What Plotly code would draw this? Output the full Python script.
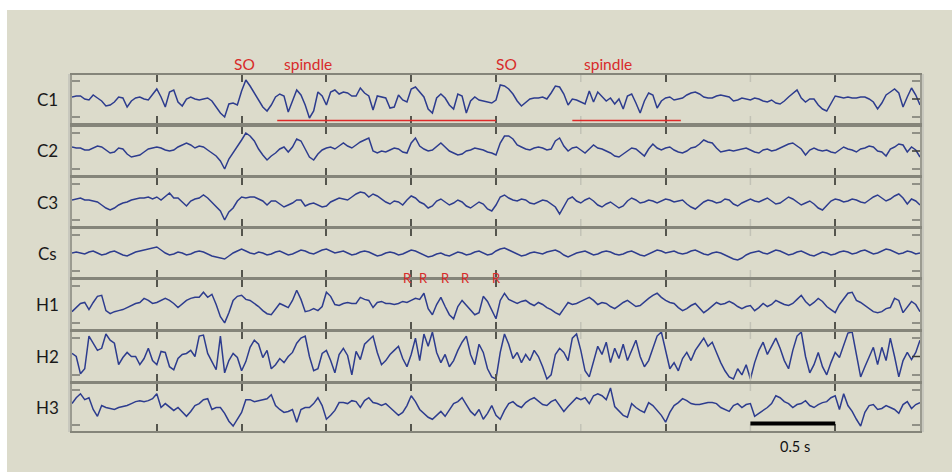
import numpy as np
import plotly.graph_objects as go

W, H = 952, 472
FS = 40.0          # samples per second
DURATION = 5.0     # seconds shown

CHANNELS = ["C1", "C2", "C3", "Cs", "H1", "H2", "H3"]

C1 = [2, 3, 3, 0, -1, 4, 1, -2, -7, -6,
      -3, 2, 1, -8, -2, 1, 2, 0, -1, 4,
      10, 2, -8, 7, 9, -3, -7, 0, 2, 0,
      -1, 0, 1, -2, -8, -14, -18, -5, -4, -6,
      8, 19, 13, 6, -1, -8, -12, -6, 2, 5,
      3, -13, -2, 9, 4, -6, -19, -12, 7, 3,
      -6, 7, 9, 5, 7, 6, 3, 3, 11, 6,
      3, -11, 3, 2, 1, -9, -8, 4, -1, -3,
      10, 12, 7, 2, -10, -14, 1, 5, 1, -6,
      -10, 5, 3, -14, -2, 2, -1, -2, -3, -4,
      -1, 14, 13, 10, 5, -2, -7, -3, 0, 1,
      1, 2, 0, 6, 13, 12, 5, -6, 0, -1,
      -3, -5, 8, -3, 7, 3, -2, 1, -5, 0,
      -10, 3, 5, -4, -14, -2, 6, 4, -9, -2,
      1, 2, -1, 0, 1, 4, 6, 7, 5, 2,
      1, 1, 3, 4, 3, 2, -2, -1, 1, 0,
      -1, 1, 0, -2, -3, -1, -4, -5, -2, 2,
      6, 9, 1, -3, 0, 0, -6, -10, -12, -4,
      3, 2, 1, 2, 1, 1, 2, 2, 0, -3,
      -10, -4, 4, 7, 10, 6, -8, 2, 11, 4,
      -6]

C2 = [4, 3, 3, 1, 1, 3, 5, 4, 1, -2,
      -1, 3, 2, -3, -6, -5, -4, -1, 2, 3,
      4, 3, 1, 0, 1, 4, 6, 8, 6, 3,
      5, 4, 1, -2, -5, -10, -18, -8, -2, 5,
      11, 18, 15, 10, 2, -4, -9, -5, -2, 2,
      4, -1, 4, 12, 10, 2, -6, -9, -3, 1,
      3, 4, 2, 5, 8, 5, 3, 6, 9, 11,
      13, 0, -2, 0, -1, 1, 3, 2, -1, -2,
      8, 13, 5, 2, 0, 1, 5, 8, 4, 0,
      -2, -4, -3, 0, 1, 3, 2, 1, -1, -2,
      -4, 8, 15, 15, 12, 6, 4, 2, 1, 3,
      4, 3, 1, 2, 10, 13, 5, 0, 3, 4,
      1, -2, 2, 6, 3, 2, 0, -2, -5, -6,
      -3, 0, 3, 2, -2, -5, 2, 7, 3, 1,
      3, 4, 1, -1, -2, 0, 3, 4, 7, 11,
      9, 8, 3, -1, 0, 1, 0, 1, 2, 3,
      1, -1, -2, 1, 2, 0, 1, 3, 5, 7,
      8, 5, 2, -4, 1, 3, 1, 0, 1, -1,
      -2, 1, 4, 2, 1, -1, 2, 3, 5, 4,
      0, -1, -5, 2, 4, 7, 6, -1, 4, 1,
      -6]

C3 = [2, 3, 4, 2, 2, 1, 0, -3, -6, -8,
      -6, -3, -1, 0, 2, 3, 4, 4, 5, 3,
      5, 2, 6, 9, 4, 4, 0, -4, 1, 3,
      4, 7, 4, 0, -4, -9, -18, -10, -6, 1,
      5, 4, 5, 5, 3, 1, -3, 1, 1, -2,
      -5, -3, -1, 2, 2, -4, -2, -1, -3, -5,
      -4, 0, 2, 4, 3, 2, 5, 8, 10, 9,
      5, 8, 6, 3, 0, -2, 1, 0, -3, 2,
      6, 4, 0, -2, -6, -4, 1, 3, 0, -3,
      -1, 2, 0, -4, -6, -3, 0, -2, -7, -9,
      -3, 5, 7, 4, 2, 1, 3, 2, -1, -2,
      0, 2, 1, -2, -5, -12, -4, 3, 5, 1,
      -1, 2, 4, 1, -3, -5, -2, 0, -3, -6,
      -4, 1, 4, 2, -1, 0, 2, 1, -1, 1,
      3, 2, 0, 1, 2, -2, -5, -7, -3, 0,
      2, 1, -1, 0, 3, 2, -2, -4, -1, 1,
      3, 1, 0, 2, 4, 1, -2, -1, 2, 5,
      3, 0, -3, -1, 1, -2, -6, -8, -4, 1,
      3, 2, 0, 1, 3, 2, 0, -1, 2, 5,
      7, 4, 1, 3, 6, 8, 4, -2, 3, 1,
      -3]

CS = [0, 1, 0, -1, 1, 2, 0, -2, -1, 1,
      2, 0, -2, -3, -1, 1, 2, 3, 4, 5,
      6, 3, 0, -2, -1, 1, 0, -2, -1, 1,
      2, 1, -1, -3, -4, -5, -6, -3, 0, 2,
      4, 2, 0, -1, 1, 0, -2, -1, 1, 2,
      0, -2, -1, 1, 3, 2, 0, -1, 1, 3,
      4, 2, 0, 1, 2, 0, -2, -1, 1, 2,
      1, -1, -3, -2, 0, 1, 0, -2, -1, 1,
      3, 2, 0, -2, -4, -3, -1, 0, -2, -3,
      -1, 1, 0, -2, -1, 1, 2, 0, -2, -1,
      2, 4, 5, 3, 1, -1, -3, -2, 0, 1,
      0, -1, 1, 2, 3, 1, -2, -4, -2, 0,
      1, 2, 0, -2, -1, 1, 2, 1, -1, -2,
      -1, 1, 2, 0, -2, -3, -1, 1, 3, 2,
      0, 1, 2, 0, -1, 0, 2, 3, 1, -1,
      -2, 0, 1, 0, -2, -4, -6, -7, -5, -2,
      0, 1, 2, 0, -1, 1, 3, 2, 0, -2,
      -1, 1, 2, 0, -2, -3, -1, 1, 0, -2,
      -1, 1, 2, 1, -1, 0, 2, 3, 1, -1,
      0, 2, 4, 3, 1, -1, 0, 2, 1, -1,
      0]

H1 = [-7, -3, 1, 2, -5, 2, 8, 9, -6, -9,
      -7, -6, -5, -3, -1, 1, 2, 6, 4, 1,
      2, 4, 6, 4, 1, -3, 1, 4, 6, 7,
      7, 12, 7, 10, 0, -12, -18, -8, 4, 8,
      9, 5, 4, 1, -2, -6, -9, -10, -4, 1,
      -1, -3, 4, 14, 5, -7, -6, -4, -6, -2,
      12, 8, 0, -1, 1, 2, 1, 1, 7, 5,
      4, -3, 2, 3, 1, 1, 0, 1, 3, 2,
      4, 6, 5, 11, -4, -10, 0, 7, -2, -10,
      -14, -2, 4, -1, -6, -10, -8, 8, 3, -6,
      -14, 4, 11, 5, 3, 1, 3, 4, 1, -1,
      2, 0, -3, -5, -8, -10, -4, 2, 0, 1,
      3, 5, 7, 4, 0, 2, 1, -2, -4, -1,
      2, 4, 1, -2, -1, 3, 6, 9, 11, 7,
      4, 2, 1, -3, -6, -4, -1, 1, -3, -8,
      -5, -1, 2, 0, 1, 3, 1, -2, -4, -2,
      -1, -6, -3, 1, -2, 0, 4, 2, 0, -1,
      1, 5, 9, 3, -1, 2, 6, 3, -2, -5,
      -8, 0, 6, 11, 12, 4, 2, -1, -4, -7,
      -8, -7, -4, -3, 6, 4, -8, -2, 3, 0,
      -7]

H2 = [3, 0, -17, -12, 20, 13, 6, 8, 22, 16,
      13, -8, -1, 4, 0, 0, -8, -2, 8, -4,
      -8, 5, 4, -10, -13, -2, 2, 3, 6, 0,
      20, 21, 3, -5, -13, 20, -16, -4, 3, -1,
      -14, -5, 9, 16, 12, -1, 6, -12, -8, -2,
      -6, 0, 4, 13, 18, 20, 0, -14, -12, 3,
      6, -4, -16, 2, 8, 1, -18, 5, -3, 12,
      16, 20, 4, -8, -4, 2, 6, 10, -2, -10,
      2, 18, -4, 22, 10, 24, 4, -6, 2, -10,
      -4, 6, 14, 20, 2, -8, 12, 4, -12, -20,
      -22, 4, 22, 12, -2, 4, -6, 2, -4, 6,
      0, -10, -22, -18, 2, 8, 4, -4, 18, 22,
      6, -14, -20, -4, 10, 2, 14, -6, 8, -2,
      12, -4, 6, 16, 0, -10, -4, 8, 20, 24,
      6, -12, -6, -14, -2, 4, -4, 6, 12, 18,
      10, 14, 4, -6, -14, -20, -22, -12, -18, -8,
      -22, -6, 6, 14, 2, 10, 18, 8, -4, -12,
      6, 20, 24, 0, -16, -8, 4, -10, -18, -6,
      4, -1, 12, 23, 24, 3, -20, -10, 0, 9,
      -8, 9, -4, 18, 0, -20, -4, 4, -3, 4,
      16]

H3 = [4, 10, 14, 8, 10, -2, -9, 2, 0, -1,
      -2, 0, 1, 2, 4, 6, 7, 6, 7, 9,
      14, 0, 4, 0, -3, 0, -4, -9, -4, 2,
      4, 8, 9, -2, 0, 0, -6, -14, -19, -12,
      -5, 8, 8, 6, 7, 8, 9, 13, 2, -2,
      -5, -4, -2, -15, -2, 0, 0, 4, 10, 2,
      -12, -8, -3, 5, 5, 4, 7, 6, 0, 7,
      10, 5, 4, 2, 4, 0, -4, -8, -5, 2,
      12, 6, -2, -6, -10, -12, -8, -4, -9, -2,
      4, 6, 10, 3, -4, -8, -2, -12, -6, 2,
      -8, -12, -3, 4, 6, 2, 0, 5, 8, 10,
      6, 3, 2, 6, 8, 2, -4, 1, 6, 10,
      8, 10, 4, 12, 14, 12, 8, 20, 1, -4,
      -8, -10, 4, 0, -3, -5, 5, 2, -3, -8,
      -15, -5, 2, 5, 9, 7, 4, 3, 3, 4,
      5, 5, 4, 0, -2, -4, 2, 4, 0, 3,
      4, -9, -6, -3, 0, 4, 12, 10, 6, 4,
      0, 3, 4, 7, 2, 0, 3, 5, 6, 10,
      12, -2, 14, 2, -4, -12, -19, -5, 2, 3,
      -2, -1, 2, 0, -2, -6, 3, 6, -1, 3,
      5]

SIGNALS = [C1, C2, C3, CS, H1, H2, H3]

MAJOR_TICKS = [0.5, 1.0, 1.5, 2.0, 2.5, 3.5, 4.5]
FAINT_TICKS = [3.0, 4.0]
SO_TIMES = [1.02, 2.56]
SPINDLE_LABEL_TIMES = [1.39, 3.16]
SPINDLE_SPANS = [(1.21, 2.50), (2.95, 3.59)]
R_TIMES = [1.98, 2.075, 2.205, 2.323, 2.50]
SCALE_BAR = (4.0, 4.5)
SCALE_LABEL = "0.5 s"
MID_TICK_CHANNELS = ["C1", "C2", "H2"]

# ---- layout geometry (pixels) ----
PANEL_TOP = [75, 127, 178, 229, 280, 332, 384]
PANEL_BOT = [123, 175, 226, 277, 329, 381, 431]
X0, X1 = 72, 920
YR = 24

BG = "#dcdbcb"
TRACE = "#2d3c8e"
RED = "#d82a2a"
FONT = "Lato, 'Open Sans', sans-serif"


def py(p):
    return 1 - p / H


def pxx(p):
    return p / W


fig = go.Figure()
layout = dict(width=W, height=H, margin=dict(l=0, r=0, t=0, b=0),
              paper_bgcolor=BG, plot_bgcolor="rgba(0,0,0,0)",
              showlegend=False, font=dict(family=FONT))
shapes = []
annotations = []

for k, (name, vals) in enumerate(zip(CHANNELS, SIGNALS)):
    s = "" if k == 0 else str(k + 1)
    layout["xaxis" + s] = dict(
        domain=[pxx(X0), pxx(X1)], range=[0, DURATION], anchor="y" + s,
        showline=True, linecolor="#85857a", linewidth=2, mirror="ticks",
        ticks="inside", ticklen=7, tickwidth=1.5, tickcolor="#55554d",
        tickvals=MAJOR_TICKS, showticklabels=False, showgrid=False,
        zeroline=False, fixedrange=True)
    layout["yaxis" + s] = dict(
        domain=[py(PANEL_BOT[k]), py(PANEL_TOP[k])], range=[-YR, YR],
        anchor="x" + s, showline=True, linecolor="#9b9b90", linewidth=1.5,
        mirror="ticks", ticks="inside", ticklen=8, tickwidth=1.5,
        tickcolor="#909086", tickvals=[-18, 18], showticklabels=False,
        showgrid=False, zeroline=False, fixedrange=True)
    t = np.arange(len(vals)) / FS
    fig.add_trace(go.Scatter(x=t, y=vals, xaxis="x" + s, yaxis="y" + s,
                             mode="lines", hoverinfo="skip",
                             line=dict(color=TRACE, width=1.5)))
    # faint ticks
    frac = 7 / (PANEL_BOT[k] - PANEL_TOP[k])
    for ft in FAINT_TICKS:
        for y0, y1 in [(1, 1 - frac), (0, frac)]:
            shapes.append(dict(type="line", xref="x" + s, yref="y" + s + " domain",
                               x0=ft, x1=ft, y0=y0, y1=y1,
                               line=dict(color="#c2c2b6", width=1.5)))
    if name in MID_TICK_CHANNELS:
        shapes.append(dict(type="line", xref="paper", yref="y" + s + " domain",
                           x0=pxx(X1 - 8), x1=pxx(X1), y0=0.5, y1=0.5,
                           line=dict(color="#3a3a35", width=1.5)))
    annotations.append(dict(x=pxx(47), y=py((PANEL_TOP[k] + PANEL_BOT[k]) / 2),
                            xref="paper", yref="paper", text=name, showarrow=False,
                            xanchor="center", yanchor="middle",
                            font=dict(size=17, color="#1a1a1a", family=FONT)))

# white margins at the top and left of the picture
shapes.append(dict(type="rect", xref="paper", yref="paper", x0=0, x1=1,
                   y0=py(10), y1=1, fillcolor="white", line=dict(width=0), layer="below"))
shapes.append(dict(type="rect", xref="paper", yref="paper", x0=0, x1=pxx(7),
                   y0=0, y1=1, fillcolor="white", line=dict(width=0), layer="below"))
# light side bands of the frame
for a, b in [(68, 72), (920, 924)]:
    shapes.append(dict(type="rect", xref="paper", yref="paper", x0=pxx(a), x1=pxx(b),
                       y0=py(432), y1=py(74), fillcolor="#c8c8be",
                       line=dict(width=0), layer="below"))

# event labels
for so in SO_TIMES:
    annotations.append(dict(x=so, y=py(64), xref="x", yref="paper", text="SO",
                            showarrow=False, xanchor="center", yanchor="middle",
                            font=dict(size=15.5, color=RED, family=FONT)))
for sp in SPINDLE_LABEL_TIMES:
    annotations.append(dict(x=sp, y=py(64), xref="x", yref="paper", text="spindle",
                            showarrow=False, xanchor="center", yanchor="middle",
                            font=dict(size=15.5, color=RED, family=FONT)))
for a, b in SPINDLE_SPANS:
    shapes.append(dict(type="line", xref="x", yref="paper", x0=a, x1=b,
                       y0=py(120.5), y1=py(120.5), line=dict(color="#e02a2a", width=1.6)))
for r in R_TIMES:
    annotations.append(dict(x=r, y=py(278), xref="x5", yref="paper", text="R",
                            showarrow=False, xanchor="center", yanchor="middle",
                            font=dict(size=13, color=RED, family=FONT)))

# scale bar
shapes.append(dict(type="line", xref="x7", yref="paper", x0=SCALE_BAR[0], x1=SCALE_BAR[1],
                   y0=py(423.5), y1=py(423.5), line=dict(color="black", width=4)))
annotations.append(dict(x=sum(SCALE_BAR) / 2 + 0.01, y=py(446), xref="x7", yref="paper",
                        text=SCALE_LABEL, showarrow=False, xanchor="center",
                        yanchor="middle", font=dict(size=14.5, color="#111", family=FONT)))

layout["shapes"] = shapes
layout["annotations"] = annotations
fig.update_layout(**layout)
fig.write_html("out.html", config={"displayModeBar": False},
               post_script="document.body.style.margin='0';document.body.style.padding='0';")
